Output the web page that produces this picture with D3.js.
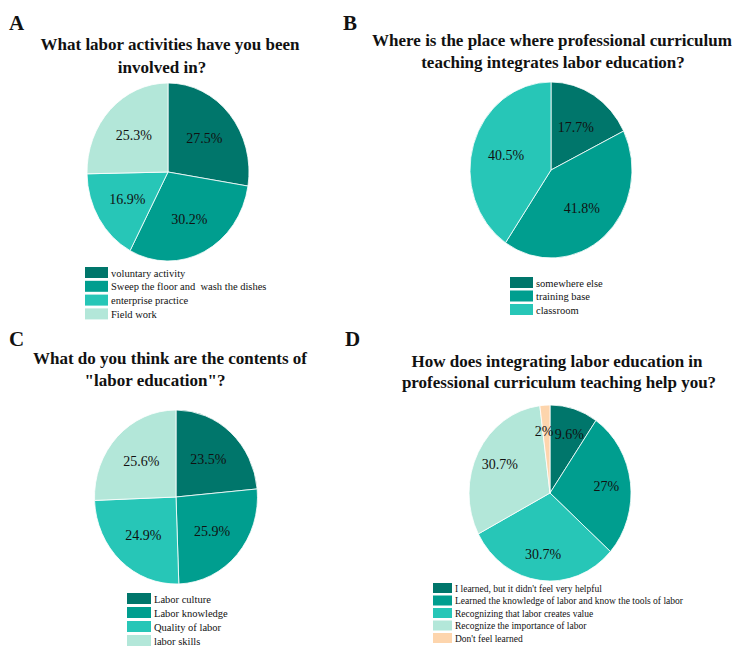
<!DOCTYPE html>
<html>
<head>
<meta charset="utf-8">
<script src="https://cdn.jsdelivr.net/npm/d3@7"></script>
<style>
  body { margin: 0; background: #fff; }
  text { font-family: "Liberation Serif", "Times New Roman", serif; fill: #111; }
</style>
</head>
<body>
<div id="chart"></div>
<script>
// panel A
var activityLabels = ['voluntary activity', 'Sweep the floor and\u00a0 wash the dishes', 'enterprise practice', 'Field work'];
var activityValues = [27.5, 30.2, 16.9, 25.3];

// panel B
var placeLabels = ['somewhere else', 'training base', 'classroom'];
var placeValues = [17.7, 41.8, 40.5];

// panel C
var contentLabels = ['Labor culture', 'Labor knowledge', 'Quality of labor', 'labor skills'];
var contentValues = [23.5, 25.9, 24.9, 25.6];

// panel D
var helpLabels = ["I learned, but it didn't feel very helpful", 'Learned the knowledge of labor and know the tools of labor',
  'Recognizing that labor creates value', 'Recognize the importance of labor', "Don't feel learned"];
var helpValues = [9.6, 27, 30.7, 30.7, 2];

var palette = ['#00766b', '#009e8f', '#27c6b7', '#b3e7d9', '#fdd5ad'];

var panels = [
  { letter: 'A', lx: 9, ly: 30,
    title: ['What labor activities have you been', 'involved in?'], tx: [170, 162], ty: [50, 73],
    labels: activityLabels, values: activityValues,
    cx: 168, cy: 172, rx: 81, ry: 89, lr: 0.59,
    legX: 85, legY: 267, legStep: 13.8, swW: 23, swH: 11, legFont: 10.5 },
  { letter: 'B', lx: 343, ly: 30,
    title: ['Where is the place where professional curriculum', 'teaching integrates labor education?'], tx: [552, 553], ty: [46, 68],
    labels: placeLabels, values: placeValues,
    cx: 551, cy: 170, rx: 81, ry: 88, lr: 0.58,
    legX: 510, legY: 277, legStep: 13.5, swW: 23, swH: 11, legFont: 10.5 },
  { letter: 'C', lx: 9, ly: 346,
    title: ['What do you think are the contents of', '"labor education"?'], tx: [170, 155], ty: [364, 386],
    labels: contentLabels, values: contentValues,
    cx: 176, cy: 497, rx: 81.5, ry: 87, lr: 0.59,
    legX: 127, legY: 593, legStep: 14, swW: 24, swH: 11, legFont: 10.5 },
  { letter: 'D', lx: 345, ly: 346,
    title: ['How does integrating labor education in', 'professional curriculum teaching help you?'], tx: [557, 559], ty: [367, 388],
    labels: helpLabels, values: helpValues,
    cx: 550, cy: 493, rx: 81, ry: 88, lr: 0.7,
    legX: 433, legY: 583, legStep: 12.5, swW: 19, swH: 10, legFont: 9.5 }
];

var svg = d3.select('#chart')
  .append('svg')
  .attr('width', 736)
  .attr('height', 646);

svg.append('rect')
  .attr('width', 736)
  .attr('height', 646)
  .attr('fill', '#fff');

var pie = d3.pie().sort(null).value(function (d) { return d; });

panels.forEach(function (p) {
  var g = svg.append('g');

  g.append('text')
    .attr('x', p.lx)
    .attr('y', p.ly)
    .attr('font-size', 21)
    .attr('font-weight', 'bold')
    .text(p.letter);

  p.title.forEach(function (line, i) {
    g.append('text')
      .attr('x', p.tx[i])
      .attr('y', p.ty[i])
      .attr('text-anchor', 'middle')
      .attr('font-size', 17)
      .attr('font-weight', 'bold')
      .text(line);
  });

  var color = d3.scaleOrdinal().domain(p.labels).range(palette);
  var arcs = pie(p.values);
  var arc = d3.arc().innerRadius(0).outerRadius(p.rx);
  var labelArc = d3.arc().innerRadius(p.rx * p.lr).outerRadius(p.rx * p.lr);
  var sy = p.ry / p.rx;

  // pies are a little taller than wide in the original
  g.append('g')
    .attr('transform', 'translate(' + p.cx + ',' + p.cy + ') scale(1,' + sy + ')')
    .selectAll('path')
    .data(arcs)
    .enter()
    .append('path')
    .attr('d', arc)
    .attr('fill', function (d, i) { return color(p.labels[i]); })
    .attr('stroke', '#fff')
    .attr('stroke-width', 0.8)
    .attr('vector-effect', 'non-scaling-stroke');

  var vals = g.selectAll('text.val')
    .data(arcs)
    .enter()
    .append('text')
    .attr('class', 'val')
    .attr('x', function (d) { return p.cx + labelArc.centroid(d)[0]; })
    .attr('y', function (d) { return p.cy + labelArc.centroid(d)[1] * sy; })
    .attr('dy', '0.35em')
    .attr('text-anchor', 'middle')
    .attr('font-size', 14)
    .text(function (d) { return d.data + '%'; });

  // the tiny last slice label sits right against the first one: push them apart just enough
  var nodes = vals.nodes();
  var first = nodes[0], last = nodes[nodes.length - 1];
  var b1 = first.getBBox(), b2 = last.getBBox();
  var overlapX = (b2.x + b2.width) - b1.x;
  if (b2.x < b1.x && overlapX > 0 && Math.abs(b1.y - b2.y) < b1.height) {
    var half = overlapX / 2 + 0.5;
    d3.select(last).attr('x', +d3.select(last).attr('x') - half);
    d3.select(first).attr('x', +d3.select(first).attr('x') + half);
  }

  var leg = g.selectAll('g.leg')
    .data(p.labels)
    .enter()
    .append('g')
    .attr('class', 'leg')
    .attr('transform', function (d, i) { return 'translate(' + p.legX + ',' + (p.legY + i * p.legStep) + ')'; });

  leg.append('rect')
    .attr('width', p.swW)
    .attr('height', p.swH)
    .attr('fill', function (d) { return color(d); });

  leg.append('text')
    .attr('x', p.swW + 3)
    .attr('y', p.swH - 1.5)
    .attr('font-size', p.legFont)
    .text(function (d) { return d; });
});
</script>
</body>
</html>
